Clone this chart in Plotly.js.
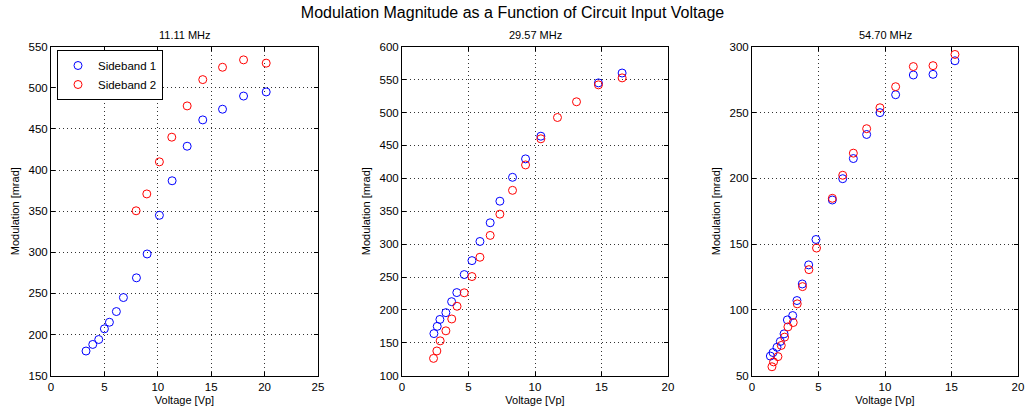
<!DOCTYPE html>
<html>
<head>
<meta charset="utf-8">
<script src="https://cdn.plot.ly/plotly-3.0.1.min.js"></script>
<style>html,body{margin:0;padding:0;background:#fff;}#chart{width:1025px;height:415px;}</style>
</head>
<body>
<div id="chart"></div>
<script>
// ---- Data ----
const panelTitles = ["11.11 MHz", "29.57 MHz", "54.70 MHz"];
const seriesNames = ["Sideband 1", "Sideband 2"];

// Panel 1: 11.11 MHz
const p1_sb1_x = [3.28, 3.91, 4.47, 5.0, 5.47, 6.12, 6.78, 8.0, 9.0, 10.15, 11.34, 12.75, 14.21, 16.06, 18.03, 20.15];
const p1_sb1_y = [180, 188, 194, 207, 215, 228, 245, 269, 298, 345, 387, 429, 461, 474, 490, 495];
const p1_sb2_x = [7.97, 8.97, 10.15, 11.31, 12.75, 14.21, 16.06, 18.03, 20.15];
const p1_sb2_y = [350.5, 371, 410, 440, 478, 510, 525, 534, 530];

// Panel 2: 29.57 MHz
const p2_sb1_x = [2.4, 2.65, 2.85, 3.3, 3.73, 4.12, 4.68, 5.26, 5.86, 6.63, 7.36, 8.31, 9.29, 10.44, 14.77, 16.55];
const p2_sb1_y = [164, 175, 185.5, 195.8, 212.5, 226.3, 253.7, 274.9, 304, 332.4, 365.2, 401.5, 429.5, 464, 545, 560];
const p2_sb2_x = [2.37, 2.62, 2.87, 3.3, 3.74, 4.14, 4.68, 5.26, 5.86, 6.63, 7.36, 8.31, 9.29, 10.44, 11.69, 13.12, 14.77, 16.55];
const p2_sb2_y = [126.3, 137.6, 153, 168.2, 186.2, 205.5, 226, 250.7, 280, 313.2, 345.5, 381.7, 420.3, 460, 492.4, 516.3, 542, 552.6];

// Panel 3: 54.70 MHz
const p3_sb1_x = [1.38, 1.58, 1.88, 2.13, 2.41, 2.66, 3.06, 3.38, 3.78, 4.26, 4.81, 6.04, 6.82, 7.62, 8.62, 9.62, 10.8, 12.13, 13.61, 15.26];
const p3_sb1_y = [64.9, 67.6, 71.6, 76, 81.8, 92.4, 95.7, 107.1, 119.7, 134.2, 153.5, 183.5, 199.7, 215, 233.3, 249.9, 263.5, 278.5, 279, 289.3];
const p3_sb2_x = [1.5, 1.62, 1.95, 2.2, 2.45, 2.7, 3.1, 3.4, 3.8, 4.28, 4.85, 6.04, 6.82, 7.62, 8.62, 9.62, 10.8, 12.13, 13.61, 15.26];
const p3_sb2_y = [56.8, 60.5, 64.5, 73, 79.3, 87.1, 90.4, 104.6, 117.7, 130.6, 147, 184.8, 202.3, 219.1, 237.7, 253.6, 269.6, 284.9, 285.6, 294.1];

const xRanges = [[0, 25], [0, 20], [0, 20]];
const yRanges = [[150, 550], [100, 600], [50, 300]];
const yDtick = [50, 50, 50];

// ---- Build ----
const colors = ["#0000ff", "#ff0000"];
const panels = [
  [[p1_sb1_x, p1_sb1_y], [p1_sb2_x, p1_sb2_y]],
  [[p2_sb1_x, p2_sb1_y], [p2_sb2_x, p2_sb2_y]],
  [[p3_sb1_x, p3_sb1_y], [p3_sb2_x, p3_sb2_y]]
];
const W = 1025, H = 415;
const xDom = [[51 / W, 318 / W], [402 / W, 668 / W], [752 / W, 1018 / W]];
const yDom = [(H - 375.7) / H, (H - 46.7) / H];
const FONT = "Liberation Sans, Arial, sans-serif";

const traces = [];
panels.forEach((p, i) => {
  p.forEach((s, j) => {
    traces.push({
      type: "scatter", mode: "markers",
      x: s[0], y: s[1],
      name: seriesNames[j],
      showlegend: i === 0,
      xaxis: i === 0 ? "x" : "x" + (i + 1),
      yaxis: i === 0 ? "y" : "y" + (i + 1),
      marker: { symbol: "circle-open", size: 8, color: colors[j], line: { width: 1, color: colors[j] } },
      cliponaxis: false
    });
  });
});

const layout = {
  width: W, height: H,
  margin: { l: 0, r: 0, t: 0, b: 0 },
  paper_bgcolor: "#fff", plot_bgcolor: "#fff",
  font: { family: FONT, size: 11, color: "#000" },
  title: { text: "Modulation Magnitude as a Function of Circuit Input Voltage", x: 0.5, xanchor: "center", y: 1 - 12 / H, yanchor: "middle", font: { family: FONT, size: 16, color: "#000" } },
  showlegend: true,
  legend: {
    x: 57 / W, y: (H - 50) / H, xanchor: "left", yanchor: "top",
    bgcolor: "#fff", bordercolor: "#000", borderwidth: 1,
    font: { family: FONT, size: 11.5, color: "#000" },
    tracegroupgap: 0, itemwidth: 30
  },
  annotations: []
};

for (let i = 0; i < 3; i++) {
  const sx = i === 0 ? "" : String(i + 1);
  layout["xaxis" + sx] = {
    domain: xDom[i], range: xRanges[i], anchor: "y" + sx,
    dtick: 5, tick0: 0,
    showline: true, linecolor: "#000", linewidth: 1, mirror: "ticks",
    ticks: "inside", ticklen: 4, tickcolor: "#000",
    showgrid: true, gridcolor: "#333", griddash: "1px,3px", gridwidth: 1,
    zeroline: false,
    tickfont: { family: FONT, size: 11.5, color: "#000" },
    title: { text: "Voltage [Vp]", font: { family: FONT, size: 11, color: "#000" }, standoff: 4 }
  };
  layout["yaxis" + sx] = {
    domain: yDom, range: yRanges[i], anchor: "x" + sx,
    dtick: yDtick[i],
    showline: true, linecolor: "#000", linewidth: 1, mirror: "ticks",
    ticks: "inside", ticklen: 4, tickcolor: "#000",
    showgrid: true, gridcolor: "#333", griddash: "1px,3px", gridwidth: 1,
    zeroline: false,
    tickfont: { family: FONT, size: 11.5, color: "#000" },
    title: { text: "Modulation [mrad]", font: { family: FONT, size: 11, color: "#000" }, standoff: 6 }
  };
  layout.annotations.push({
    text: panelTitles[i], xref: "paper", yref: "paper",
    x: (xDom[i][0] + xDom[i][1]) / 2, y: yDom[1], xanchor: "center", yanchor: "bottom",
    yshift: 4, showarrow: false, font: { family: FONT, size: 11, color: "#000" }
  });
}

Plotly.newPlot("chart", traces, layout, { staticPlot: true, displayModeBar: false });
</script>
</body>
</html>
